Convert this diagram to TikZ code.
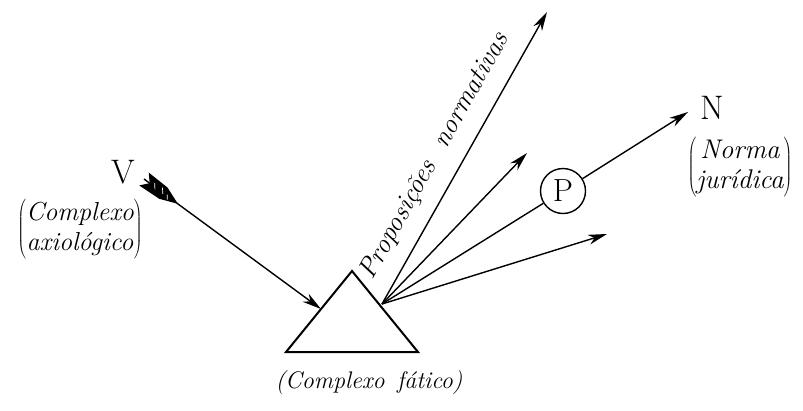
\documentclass[tikz,border=0pt]{standalone}
\usetikzlibrary{arrows.meta}
\begin{document}
\begin{tikzpicture}[x=1pt,y=-1pt,
  ray/.style={line width=1.4pt,-{Stealth[length=19pt,width=10pt,inset=6pt]}},
  lbl/.style={font=\fontsize{26}{32}\selectfont\itshape, align=center, inner sep=0pt},
  big/.style={font=\fontsize{34}{36}\selectfont, inner sep=0pt}]
\useasboundingbox (0,0) rectangle (803,410);
% triangle
\coordinate (TA) at (352,271);
\coordinate (TL) at (286,352);
\coordinate (TR) at (418,352);
\draw[line width=2pt, line join=miter] (TA) -- (TL) -- (TR) -- cycle;
% ray origin
\coordinate (O) at (382,304);
\coordinate (T1) at (547,12);
\coordinate (T2) at (527,153);
\coordinate (T4) at (607,234);
\coordinate (Ntip) at (688,112);
\node[circle, draw, line width=1.4pt, minimum size=45pt, inner sep=0pt, font=\fontsize{32}{34}\selectfont] (P) at (563,191) {P};
\draw[ray] (O) -- (T1);
\draw[ray] (O) -- (T2);
\draw[line width=1.4pt] (O) -- (P);
\draw[ray] (P) -- (Ntip);
\draw[ray] (O) -- (T4);
% V arrow
\coordinate (Vs) at (144,179);
\coordinate (Ve) at (321,309);
\draw[ray] (Vs) -- (Ve);
\begin{scope}[shift={(Vs)}, rotate=-36.2]
  \fill[black] (0,-8) -- (7,0) -- (0,8) -- (24,7) -- (42,0) -- (24,-7) -- cycle;
  \draw[white, line width=0.7pt] (11,-3) -- (15,2) (20,-4) -- (24,1) (28,-1) -- (31,3);
\end{scope}
% labels
\node[big] (V) at (123,172) {V};
\node[lbl] (Cax) at (80,229) {$\left(\vcenter{\hbox{\begin{tabular}{@{}c@{}}\itshape Complexo\\[-2pt] \itshape axiológico\end{tabular}}}\right)$};
\node[big] (N) at (712,108) {N};
\node[lbl, font=\fontsize{27}{32}\selectfont\itshape] (Nj) at (740,167) {$\left(\vcenter{\hbox{\begin{tabular}{@{}c@{}}\itshape Norma\\[-2pt] \itshape jurídica\end{tabular}}}\right)$};
\node[lbl, font=\fontsize{24}{30}\selectfont\itshape] (Cf) at (369,383) {(Complexo\ \,fático)};
\node[lbl, font=\fontsize{27}{32}\selectfont\itshape, rotate=60.7] (Pn) at (435,156) {Proposições\ \ normativas};
\end{tikzpicture}
\end{document}
